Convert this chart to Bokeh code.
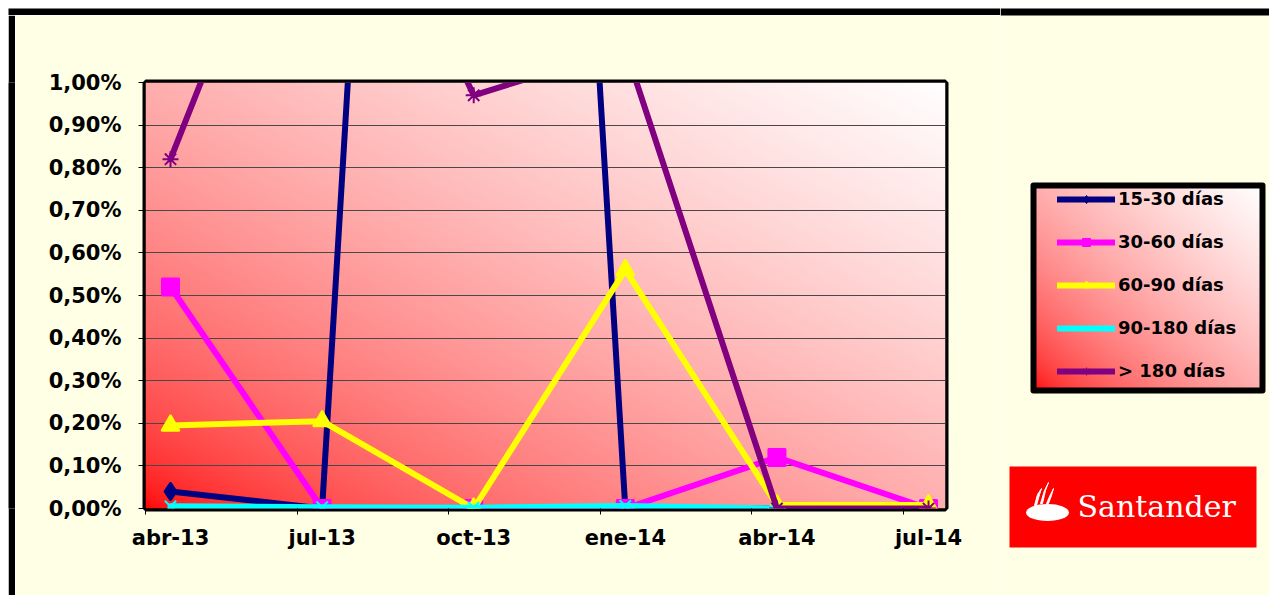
import numpy as np
from bokeh.plotting import figure
from bokeh.layouts import row, column
from bokeh.models import Range1d, FixedTicker, Legend, LegendItem
from bokeh.core.properties import value
from bokeh.embed import file_html
from bokeh.resources import INLINE

# ---------------- data ----------------
categories = ["abr-13", "jul-13", "oct-13", "ene-14", "abr-14", "jul-14"]
s_15_30 = [0.04, 0.0, 5.9, 0.0, 0.0, 0.0]
s_30_60 = [0.52, 0.0, 0.0, 0.0, 0.12, 0.0]
s_60_90 = [0.195, 0.205, 0.0, 0.56, 0.008, 0.008]
s_90_180 = [0.005, 0.003, 0.002, 0.006, 0.0, float("nan")]
s_180 = [0.82, 1.72, 0.97, 1.08, 0.0, 0.0]
series_names = ["15-30 días", "30-60 días", "60-90 días", "90-180 días", "> 180 días"]
y_ticks = [i / 10 for i in range(11)]
y_labels = ["0,00%", "0,10%", "0,20%", "0,30%", "0,40%", "0,50%",
            "0,60%", "0,70%", "0,80%", "0,90%", "1,00%"]
logo_text = "Santander"

colors = ["#000080", "#FF00FF", "#FFFF00", "#00FFFF", "#800080"]
markers = ["diamond", "square", "triangle", "x", "asterisk"]
msizes = [18, 17, 18, 16, 16]
series = [s_15_30, s_30_60, s_60_90, s_90_180, s_180]

FONT = "DejaVu Sans"
BG = "#FFFFE6"
X0, X1 = -0.165, 5.112


def grad(t):
    t = np.clip(t, 0, 1)
    return 255 * t ** 0.55


def grad_image(gw, gh):
    u = np.linspace(0, 1, gw)[None, :]
    v = np.linspace(0, 1, gh)[:, None]
    g = grad((u + v) / 2).astype(np.uint32)
    img = np.zeros((gh, gw), dtype=np.uint32)
    view = img.view(dtype=np.uint8).reshape((gh, gw, 4))
    view[:, :, 0] = 255
    view[:, :, 1] = g
    view[:, :, 2] = g
    view[:, :, 3] = 255
    return img


def plain(width, height, border_color, inner_color, left=0, top=0):
    f = figure(width=width, height=height, title=None, toolbar_location=None,
               output_backend="svg", x_axis_location=None, y_axis_location=None,
               min_border_left=left, min_border_top=top, min_border_right=0,
               min_border_bottom=0)
    f.border_fill_color = border_color
    f.background_fill_color = inner_color
    f.outline_line_color = None
    f.grid.visible = False
    return f


top_strip = plain(1000, 15, "white", "black", left=8, top=8)
white_strip = plain(8, 580, "white", "white")
black_strip = plain(7, 580, "black", "black")

# ---------------- main chart ----------------
p = figure(width=985, height=580, title=None, x_range=Range1d(X0, X1), y_range=Range1d(0, 1.0),
           output_backend="svg", toolbar_location=None,
           min_border_left=130, min_border_right=55, min_border_top=67, min_border_bottom=87)
p.border_fill_color = BG
p.background_fill_color = "#FFFFFF"
p.outline_line_color = "black"
p.outline_line_width = 6

p.image_rgba(image=[grad_image(400, 213)], x=X0, y=0, dw=X1 - X0, dh=1.0, level="image")

p.xgrid.visible = False
p.ygrid.ticker = FixedTicker(ticks=y_ticks)
p.ygrid.grid_line_color = "#484848"
p.ygrid.grid_line_width = 1

yax = p.yaxis[0]
yax.ticker = FixedTicker(ticks=y_ticks)
yax.major_label_overrides = dict(zip(y_ticks, y_labels))
yax.axis_line_color = None
yax.major_tick_out = 7
yax.major_tick_in = 0
yax.minor_tick_line_color = None
yax.major_label_standoff = 17
yax.major_label_text_font = FONT
yax.major_label_text_font_style = "bold"
yax.major_label_text_font_size = "21px"
yax.major_label_text_color = "black"

xs = list(range(len(categories)))
xax = p.xaxis[0]
xax.ticker = FixedTicker(ticks=xs, minor_ticks=[X0 + k for k in range(7)])
xax.major_label_overrides = dict(zip(xs, categories))
xax.axis_line_color = None
xax.major_tick_line_color = None
xax.major_tick_out = 0
xax.major_tick_in = 0
xax.minor_tick_line_color = "black"
xax.minor_tick_out = 6
xax.minor_tick_in = 0
xax.major_label_standoff = 11
xax.major_label_text_font = FONT
xax.major_label_text_font_style = "bold"
xax.major_label_text_font_size = "21px"
xax.major_label_text_color = "black"

for name, vals, c, m, ms in zip(series_names, series, colors, markers, msizes):
    p.line(xs, vals, line_color=c, line_width=6, line_join="round", line_cap="round")
    p.scatter(xs, vals, marker=m, size=ms, fill_color=c, line_color=c, line_width=2)

# ---------------- right panel: legend + logo (pixel coordinates) ----------------
q = figure(width=269, height=595, title=None, x_range=Range1d(1000, 1269), y_range=Range1d(0, 595),
           output_backend="svg", toolbar_location=None, x_axis_location=None, y_axis_location=None,
           min_border_left=0, min_border_right=0, min_border_top=0, min_border_bottom=0)
q.border_fill_color = BG
q.background_fill_color = BG
q.outline_line_color = None
q.grid.visible = False


def py(page_y):
    return 595 - page_y


# continuation of the outer frame's top edge
q.quad(left=[1000], right=[1269], top=[py(0)], bottom=[py(8)], fill_color="white", line_color=None)
q.quad(left=[1000], right=[1269], top=[py(8)], bottom=[py(15)], fill_color="black", line_color=None)

# legend box with gradient
q.image_rgba(image=[grad_image(115, 103)], x=1033, y=py(390), dw=229, dh=205)
q.quad(left=[1033], right=[1262], top=[py(185)], bottom=[py(390)], fill_color=None,
       line_color="black", line_width=6, line_join="round")

items = []
for name, c, m, ms in zip(series_names, colors, markers, msizes):
    ln = q.line(x=[0, 1], y=[-100, -100], line_color=c, line_width=6, line_cap="round")
    sc = q.scatter(x=[0], y=[-100], marker=m, size=ms * 0.6, fill_color=c, line_color=c,
                   line_width=1)
    items.append(LegendItem(label=name, renderers=[ln, sc]))

legend = Legend(items=items, location=(57, py(381)), padding=0, margin=0,
                spacing=22, glyph_width=58, glyph_height=20, label_height=20,
                label_standoff=3, label_text_font=FONT, label_text_font_style="bold",
                label_text_font_size="18px", label_text_color="black",
                border_line_alpha=0, background_fill_alpha=0)
q.add_layout(legend, "center")

# Santander logo
q.quad(left=[1009], right=[1256], top=[py(466)], bottom=[py(547)], fill_color="#FF0000",
       line_color=None)
q.ellipse(x=[1047], y=[py(512)], width=43, height=17, fill_color="white", line_color=None)
q.patches(xs=[[1034, 1037, 1041, 1039, 1036], [1040, 1044, 1048, 1045, 1042],
              [1046, 1050, 1053, 1051, 1048]],
          ys=[[py(y) for y in (505, 494, 488, 494, 505)],
              [py(y) for y in (503, 490, 482, 490, 503)],
              [py(y) for y in (503, 494, 488, 495, 503)]],
          fill_color="white", line_color="white", line_width=1)
q.text(x=[1077], y=[py(506)], text=[logo_text], text_font=value("DejaVu Serif"),
       text_font_size="30px", text_color="white", text_baseline="middle", text_align="left")

left_part = column(top_strip, row(white_strip, black_strip, p))
layout = row(left_part, q)
open("out.html", "w").write(file_html(layout, INLINE))
